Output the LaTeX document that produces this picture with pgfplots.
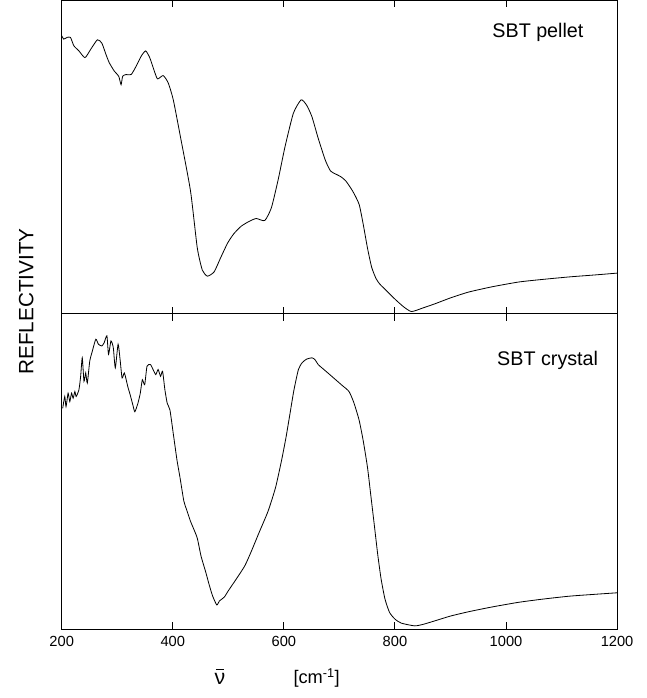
\documentclass[border=0pt]{standalone}
\usepackage{pgfplots}
\pgfplotsset{compat=1.18}
\usepackage{fontspec}
\setmainfont{Liberation Sans}

% Reflectivity spectra (arbitrary units) vs wavenumber in cm^-1
\pgfplotstableread{
w r
200.0 274.7
203.6 271.3
209.7 273.0
215.8 273.0
221.9 264.7
231.0 259.7
241.9 253.0
252.3 261.3
264.3 270.7
272.3 267.3
279.6 256.3
285.6 248.0
294.7 239.7
302.6 234.7
306.9 226.3
309.8 234.7
316.0 236.3
325.1 236.3
334.2 244.7
343.4 254.7
351.2 259.7
358.5 253.0
365.8 241.3
372.5 232.0
382.7 235.3
391.8 228.0
400.9 211.3
413.7 175.0
431.9 121.3
444.1 65.0
453.2 43.0
462.3 37.0
474.5 41.3
486.0 55.0
498.7 69.7
510.0 79.0
523.0 86.3
537.0 91.0
550.3 94.0
565.6 92.0
577.6 104.7
590.0 133.0
602.0 164.7
617.1 198.0
631.1 211.3
641.0 206.0
650.5 194.7
662.0 173.0
674.9 151.3
684.0 141.0
693.1 138.0
702.0 135.5
711.3 131.3
724.0 121.0
735.5 108.0
743.0 88.0
750.6 64.7
758.0 46.0
765.9 34.7
773.0 29.0
781.0 24.7
799.3 14.7
815.0 7.0
829.7 2.0
850.0 5.5
872.1 9.7
900.0 15.5
932.8 21.3
975.0 26.5
1023.9 31.3
1070.0 34.0
1114.9 36.3
1160.0 38.2
1200.0 40.0
}\pellet

\pgfplotstableread{
w r
201.8 218.3
205.5 230.0
207.8 220.0
211.5 233.3
214.6 225.0
217.7 233.3
220.6 228.3
223.7 235.0
226.0 230.0
231.0 236.7
234.1 250.0
237.0 268.3
240.1 245.0
243.2 253.3
246.1 243.3
250.5 265.0
255.2 275.0
261.4 286.7
266.1 281.7
272.3 280.0
276.5 283.3
281.4 290.0
284.3 271.7
288.7 285.0
292.9 278.3
296.5 258.3
301.5 281.7
305.1 266.7
308.7 248.3
312.9 253.3
318.9 240.0
323.3 231.7
328.1 221.7
331.7 215.0
337.2 223.3
341.5 233.3
345.2 246.7
349.4 241.7
353.6 260.0
359.7 261.7
364.5 256.7
369.4 251.7
373.6 256.7
378.0 250.0
381.6 255.0
385.8 236.7
390.0 223.3
394.9 216.7
400.9 193.3
407.7 166.7
413.0 150.0
419.9 126.7
425.0 118.0
431.9 106.7
437.0 100.0
444.1 90.0
451.0 72.0
459.2 56.7
465.0 45.0
471.4 33.3
479.2 24.0
484.0 28.0
492.7 31.7
500.0 38.0
516.9 51.7
530.0 63.0
541.2 76.7
555.0 95.0
571.6 116.7
585.0 140.0
595.8 166.7
604.0 190.0
611.1 213.3
618.0 236.0
626.2 256.7
633.0 263.5
641.0 267.0
650.5 268.3
656.0 266.5
662.0 261.5
668.7 258.3
681.0 252.5
693.1 246.7
705.0 241.0
717.3 235.0
726.0 224.0
735.5 206.7
743.0 186.0
750.6 160.0
756.0 135.0
762.8 103.3
769.0 74.0
775.0 50.0
782.0 30.0
790.2 16.7
800.0 10.0
811.5 6.0
835.7 3.3
852.0 5.0
872.1 8.3
900.0 13.0
932.8 17.3
975.0 22.0
1023.9 26.7
1070.0 30.0
1114.9 32.7
1160.0 34.5
1200.0 36.0
}\crystal

\pgfplotsset{
  panel/.style={
    scale only axis,
    width=549pt,
    xmin=200, xmax=1200,
    ymin=0,
    xtick={200,400,600,800,1000,1200},
    ytick=\empty,
    tick align=inside,
    major tick length=7pt,
    xtick pos=both,
    axis line style={line width=0.9pt},
    tick style={line width=0.9pt, black},
    /pgf/number format/assume math mode=true,
    /pgf/number format/1000 sep={},
  },
  spectrum/.style={black, line width=0.8pt, no marks, smooth, tension=0.35},
}

\begin{document}
\begin{tikzpicture}[x=1pt,y=1pt]
\useasboundingbox (-61,-68) rectangle (578,622);

% lower panel: crystal
\begin{axis}[panel, at={(0,0)}, anchor=south west, height=312pt, ymax=312,
  xticklabel style={font=\fontsize{14.5}{16}\selectfont, yshift=-3pt}]
  \addplot[spectrum] table[x=w, y=r] {\crystal};
  \node[font=\fontsize{19.5}{22}\selectfont] at (axis cs:1075,266) {SBT crystal};
\end{axis}

% upper panel: pellet
\begin{axis}[panel, at={(0,312)}, anchor=south west, height=310pt, ymax=310,
  xticklabels={}]
  \addplot[spectrum] table[x=w, y=r] {\pellet};
  \node[font=\fontsize{19.5}{22}\selectfont] at (axis cs:1057.5,277.5) {SBT pellet};
\end{axis}

% axis titles
\node[rotate=90, font=\fontsize{20.5}{23}\selectfont] at (-35,324) {REFLECTIVITY};
\node[font=\fontsize{21}{23}\selectfont, anchor=base, inner sep=0pt] at (156.5,-55) {ν};
\draw[line width=1pt] (152.3,-40) -- (160.7,-40);
\node[font=\fontsize{18}{20}\selectfont] at (252,-48) {[cm\textsuperscript{-1}]};
\end{tikzpicture}
\end{document}
